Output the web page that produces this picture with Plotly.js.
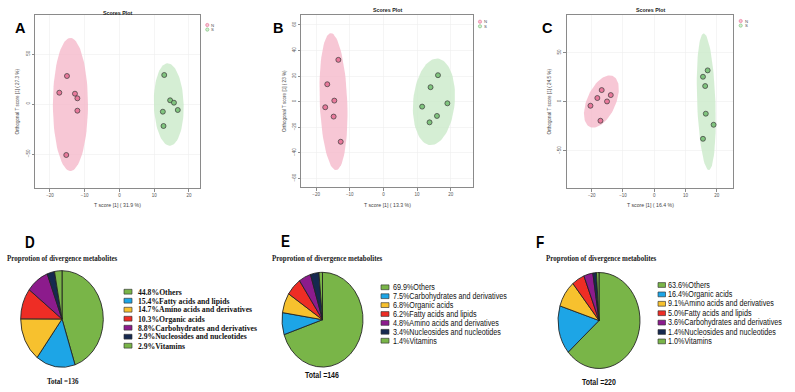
<!DOCTYPE html>
<html><head><meta charset="utf-8">
<script src="https://cdn.plot.ly/plotly-3.0.1.min.js"></script>
<style>
html,body{margin:0;padding:0;background:#fff;width:795px;height:392px;overflow:hidden;}
#top{position:absolute;left:0;top:0;width:795px;height:392px;}
#bot{position:absolute;left:0;top:200px;width:795px;height:164px;transform:scaleY(1.17);transform-origin:0 0;}
</style></head><body>
<div id="top"></div><div id="bot"></div>
<script>
// ---------- Scores plot data ----------
const groups = ['N', 'S'];
// Panel A
const aNx = [-15.1, -17.3, -12.8, -12.1, -12.1, -15.3];
const aNy = [28, 11.3, 10.3, 5.7, -6.7, -51];
const aSx = [12.9, 14.6, 15.7, 12.5, 16.8, 12.7];
const aSy = [29, 3.7, 1.3, -7.7, -6, -22];
// Panel B
const bNx = [-13.4, -16.7, -14.6, -17.3, -14.8, -12.7];
const bNy = [32.7, 13.6, 0.8, -4.4, -11.7, -31.4];
const bSx = [16.2, 14.0, 19.0, 11.5, 15.9, 13.7];
const bSy = [20.7, 11.3, -1.3, -3.9, -11.2, -16.2];
// Panel C
const cNx = [-16.8, -13.9, -18.2, -15.1, -20.4, -17.2];
const cNy = [11.9, 6.8, 3.8, 0.3, -4.1, -19.4];
const cSx = [17.1, 15.6, 16.3, 16.5, 19.0, 15.6];
const cSy = [32, 25.5, 16, -12.2, -23.5, -37.8];
// confidence ellipses: [centerX, centerY, semiX, semiY, lean]
const aEllN = [-14.1, -0.5, 5.05, 66.5, 0];
const aEllS = [14.2, -0.5, 4.3, 41.2, -0.3];
const bEllN = [-14.85, 0, 4.1, 53.6, -0.75];
const bEllS = [15.0, -0.15, 6.2, 33.9, 0.9];
const cEllN = [-16.9, 0.2, 4.9, 26.7, 2.65];
const cEllS = [16.65, 0, 2.94, 69.75, -0.8];
const xTitles = ['T score [1] ( 31.9 %)', 'T score [1] ( 13.3 %)', 'T score [1] ( 16.4 %)'];
const yTitles = ['Orthogonal T score [1] ( 27.3 %)', 'Orthogonal T score [1] ( 23 %)', 'Orthogonal T score [1] ( 24.5 %)'];
const plotTitle = 'Scores Plot';
const panelLetters = ['A', 'B', 'C', 'D', 'E', 'F'];

// ---------- Pie data ----------
const dLabels = ['Others', 'Fatty acids and lipids', 'Amino acids and derivatives', 'Organic acids', 'Carbohydrates and derivatives', 'Nucleosides and nucleotides', 'Vitamins'];
const dValues = [44.8, 15.4, 14.7, 10.3, 8.8, 2.9, 2.9];
const eLabels = ['Others', 'Carbohydrates and derivatives', 'Organic acids', 'Fatty acids and lipids', 'Amino acids and derivatives', 'Nucleosides and nucleotides', 'Vitamins'];
const eValues = [69.9, 7.5, 6.8, 6.2, 4.8, 3.4, 1.4];
const fLabels = ['Others', 'Organic acids', 'Amino acids and derivatives', 'Fatty acids and lipids', 'Carbohydrates and derivatives', 'Nucleosides and nucleotides', 'Vitamins'];
const fValues = [63.6, 16.4, 9.1, 5.0, 3.6, 1.4, 1.0];
const totals = [136, 146, 220];
const pieTitle = 'Proprotion of divergence metabolites';

// ---------- styles ----------
const sliceColors = ['#79b548', '#1da5e6', '#f7c12e', '#ee2d25', '#8c1b8c', '#16294f', '#79b548'];
const ptColor = {N: '#e8799b', S: '#80c47e'};
const ellColor = {N: 'rgba(245,185,202,0.8)', S: 'rgba(203,234,201,0.8)'};
const SANS = 'Liberation Sans, Arial, sans-serif';
const SERIF = 'Liberation Serif, Times New Roman, serif';

const W = 795, H = 392;
const px = x => x / W, py = y => 1 - y / H;

function ellipse(p) {
  const xs = [], ys = [];
  for (let i = 0; i <= 90; i++) {
    const t = 2 * Math.PI * i / 90;
    xs.push(p[0] + p[2] * Math.cos(t) + p[4] * Math.sin(t));
    ys.push(p[1] + p[3] * Math.sin(t));
  }
  return {xs, ys};
}

const panels = [
  {frame: [35, 200, 15, 188], xr: [-24.3, 23.2], yr: [-84, 89], ydt: 50, tY: 13.3, lab: [20.5, 28], ytX: 17, leg: [207.3, 25],
   N: [aNx, aNy], S: [aSx, aSy], eN: aEllN, eS: aEllS},
  {frame: [301, 473.3, 15, 187], xr: [-24.5, 26.7], yr: [-66.8, 67.8], ydt: 20, tY: 9.5, lab: [278, 28], ytX: 284, leg: [480, 21.7],
   N: [bNx, bNy], S: [bSx, bSy], eN: bEllN, eS: bEllS},
  {frame: [566.7, 733.3, 15, 188], xr: [-28.0, 25.3], yr: [-88, 88.5], ydt: 50, tY: 9.5, lab: [547, 28], ytX: 549, leg: [740.7, 21],
   N: [cNx, cNy], S: [cSx, cSy], eN: cEllN, eS: cEllS}
];

const traces = [], annotations = [], shapes = [];
const layout = {width: W, height: H, margin: {l: 0, r: 0, t: 0, b: 0}, paper_bgcolor: '#fff', plot_bgcolor: '#fff', showlegend: false};

panels.forEach((p, i) => {
  const k = i === 0 ? '' : String(i + 1);
  const xa = 'x' + k, ya = 'y' + k;
  const axBase = {showline: true, mirror: true, linecolor: '#8a8a8a', linewidth: 1, ticks: 'outside', ticklen: 2.5, tickcolor: '#8a8a8a',
    tickfont: {family: SANS, size: 4.5, color: '#555'}, gridcolor: '#eeeeee', gridwidth: 0.6, zeroline: false, fixedrange: true};
  layout['xaxis' + k] = Object.assign({}, axBase, {domain: [px(p.frame[0]), px(p.frame[1])], range: p.xr, dtick: 10, tick0: 0, anchor: ya});
  layout['yaxis' + k] = Object.assign({}, axBase, {domain: [py(p.frame[3]), py(p.frame[2])], range: p.yr, dtick: p.ydt, tick0: 0, anchor: xa, tickangle: -90});
  groups.forEach(g => {
    const e = ellipse(g === 'N' ? p.eN : p.eS);
    traces.push({type: 'scatter', mode: 'lines', x: e.xs, y: e.ys, xaxis: xa, yaxis: ya, fill: 'toself', fillcolor: ellColor[g],
      line: {width: 0, color: 'rgba(0,0,0,0)'}, hoverinfo: 'skip'});
  });
  groups.forEach(g => {
    const d = p[g];
    traces.push({type: 'scatter', mode: 'markers', name: g, x: d[0], y: d[1], xaxis: xa, yaxis: ya,
      marker: {size: 5, color: ptColor[g], line: {color: '#3a3a3a', width: 0.7}}});
  });
  const cx = (p.frame[0] + p.frame[1]) / 2, cy = (p.frame[2] + p.frame[3]) / 2;
  annotations.push({xref: 'paper', yref: 'paper', x: px(cx), y: py(p.tY), text: '<b>' + plotTitle + '</b>', showarrow: false,
    font: {family: SANS, size: 5.3, color: '#222'}, xanchor: 'center', yanchor: 'middle'});
  annotations.push({xref: 'paper', yref: 'paper', x: px(cx), y: py(205), text: xTitles[i], showarrow: false,
    font: {family: SANS, size: 5.2, color: '#444'}, xanchor: 'center', yanchor: 'middle'});
  annotations.push({xref: 'paper', yref: 'paper', x: px(p.ytX), y: py(cy), text: yTitles[i], showarrow: false, textangle: -90,
    font: {family: SANS, size: 4.6, color: '#444'}, xanchor: 'center', yanchor: 'middle'});
  annotations.push({xref: 'paper', yref: 'paper', x: px(p.lab[0]), y: py(p.lab[1]), text: '<b>' + panelLetters[i] + '</b>', showarrow: false,
    font: {family: SANS, size: 14.5, color: '#000'}, xanchor: 'center', yanchor: 'middle'});
  groups.forEach((g, j) => {
    const lx = p.leg[0], ly = p.leg[1] + j * 4.6;
    shapes.push({type: 'circle', xref: 'paper', yref: 'paper', x0: px(lx - 1.6), x1: px(lx + 1.6), y0: py(ly + 1.6), y1: py(ly - 1.6),
      fillcolor: ellColor[g], line: {color: ptColor[g], width: 0.7}});
    annotations.push({xref: 'paper', yref: 'paper', x: px(lx + 2.8), y: py(ly), text: g, showarrow: false,
      font: {family: SANS, size: 4.3, color: '#555'}, xanchor: 'left', yanchor: 'middle', borderpad: 0});
  });
});
layout.annotations = annotations;
layout.shapes = shapes;
Plotly.newPlot('top', traces, layout, {staticPlot: true, displayModeBar: false});

// ---------- bottom (pie panels) ----------
const SY = 1.17, HB = 164, Y0 = 200;
const by = y => 1 - ((y - Y0) / SY) / HB;
const pies = [
  {labels: dLabels, values: dValues, c: [62, 319], r: 41.3, lab: [30, 243], titleX: 62, titleY: 258.5, rows: 291.7, pitch: 9.0,
   sq: [124, 132], tx: 137, font: SERIF, fsize: 7.7, bold: true, totX: 62.5, totY: 381.7},
  {labels: eLabels, values: eValues, c: [322.5, 319.7], r: 40.5, lab: [285, 242], titleX: 327, titleY: 258.3, rows: 287.3, pitch: 8.9,
   sq: [381, 389], tx: 392, font: SANS, fsize: 7.2, bold: false, totX: 322, totY: 375},
  {labels: fLabels, values: fValues, c: [599, 320.5], r: 41, lab: [540, 243], titleX: 601.5, titleY: 259, rows: 285, pitch: 9.4,
   sq: [658, 665.5], tx: 667, font: SANS, fsize: 7.2, bold: false, totX: 599, totY: 381.7}
];
const bTraces = [], bAnn = [], bShapes = [];
pies.forEach((p, i) => {
  const cyd = (p.c[1] - Y0) / SY;
  bTraces.push({type: 'pie', labels: p.labels, values: p.values, sort: false, direction: 'clockwise', rotation: 0,
    textinfo: 'none', hoverinfo: 'none', showlegend: false,
    marker: {colors: sliceColors, line: {color: '#222', width: 0.8}},
    domain: {x: [px(p.c[0] - p.r), px(p.c[0] + p.r)], y: [1 - (cyd + p.r) / HB, 1 - (cyd - p.r) / HB]}});
  bAnn.push({xref: 'paper', yref: 'paper', x: px(p.lab[0]), y: by(p.lab[1]), text: '<b>' + panelLetters[i + 3] + '</b>', showarrow: false,
    font: {family: SANS, size: 13.5, color: '#000'}, xanchor: 'center', yanchor: 'middle'});
  bAnn.push({xref: 'paper', yref: 'paper', x: px(p.titleX), y: by(p.titleY), text: '<b>' + pieTitle + '</b>', showarrow: false,
    font: {family: SERIF, size: 7, color: '#222'}, xanchor: 'center', yanchor: 'middle'});
  bAnn.push({xref: 'paper', yref: 'paper', x: px(p.totX), y: by(p.totY), text: '<b>Total =' + totals[i] + '</b>', showarrow: false,
    font: {family: p.font, size: 7, color: '#111'}, xanchor: 'center', yanchor: 'middle'});
  p.labels.forEach((lab, j) => {
    const yy = p.rows + j * p.pitch;
    const txt = p.values[j].toFixed(1) + '%' + lab;
    bShapes.push({type: 'rect', xref: 'paper', yref: 'paper', x0: px(p.sq[0]), x1: px(p.sq[1]), y0: by(yy + 2.4), y1: by(yy - 2.4),
      fillcolor: sliceColors[j], line: {color: '#333', width: 0.6}});
    bAnn.push({xref: 'paper', yref: 'paper', x: px(p.tx), y: by(yy), text: p.bold ? '<b>' + txt + '</b>' : txt, showarrow: false,
      font: {family: p.font, size: p.fsize, color: '#111'}, xanchor: 'left', yanchor: 'middle', borderpad: 0});
  });
});
Plotly.newPlot('bot', bTraces, {width: W, height: HB, margin: {l: 0, r: 0, t: 0, b: 0}, paper_bgcolor: 'rgba(0,0,0,0)',
  plot_bgcolor: 'rgba(0,0,0,0)', showlegend: false, annotations: bAnn, shapes: bShapes}, {staticPlot: true, displayModeBar: false});
</script>
</body></html>
